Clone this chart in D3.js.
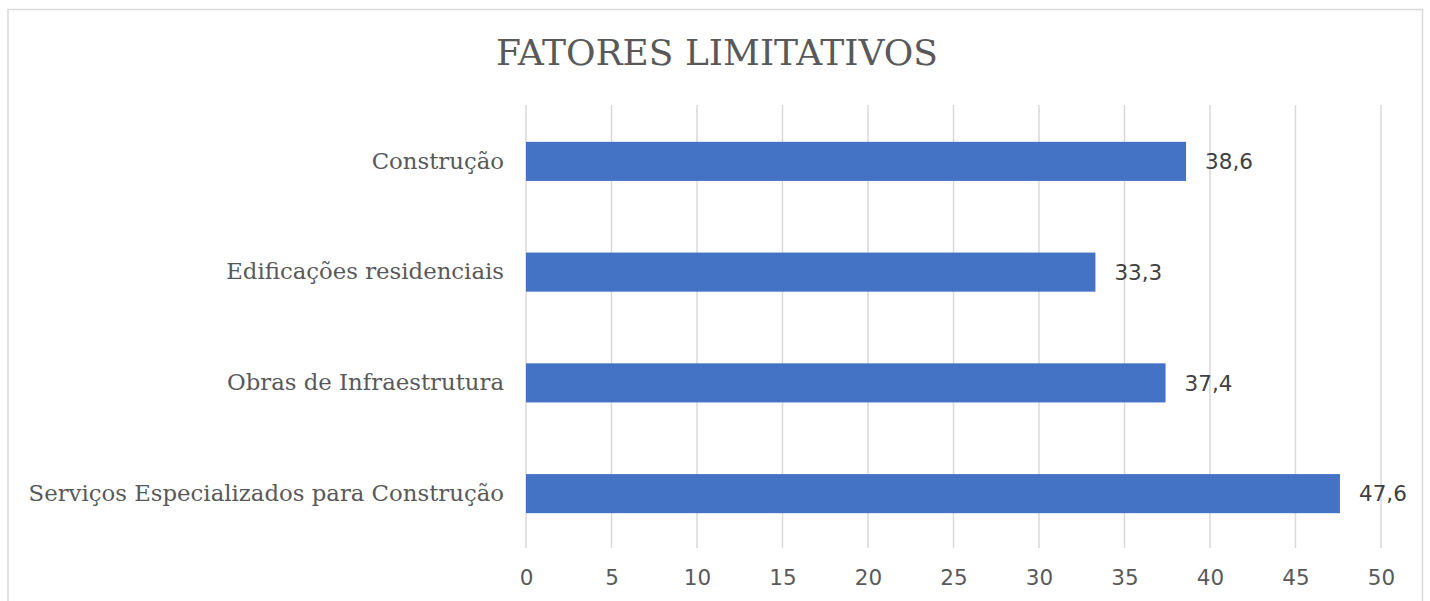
<!DOCTYPE html>
<html><head><meta charset="utf-8">
<script src="https://cdn.jsdelivr.net/npm/d3@7"></script>
<style>body{margin:0;background:#fff}</style>
</head><body>
<svg id="c" width="1430" height="601"></svg>
<script>
const title = "FATORES LIMITATIVOS";
const categories = ["Construção","Edificações residenciais","Obras de Infraestrutura","Serviços Especializados para Construção"];
const values = [38.6, 33.3, 37.4, 47.6];
const xTicks = [0,5,10,15,20,25,30,35,40,45,50];

const svg = d3.select("#c");
const m = {left:526, right:1381, top:106, bottom:549};
const serif = "'DejaVu Serif', serif";
const sans = "'DejaVu Sans', sans-serif";
const txt = "#595959";

svg.append("rect").attr("x",8).attr("y",9.5).attr("width",1414.5).attr("height",620)
  .attr("fill","#fff").attr("stroke","#d9d9d9").attr("stroke-width",1.5);

const x = d3.scaleLinear().domain([0,50]).range([m.left,m.right]);
const y = d3.scaleBand().domain(categories).range([m.top,m.bottom]).paddingInner(0.647).paddingOuter(0.3235);

svg.append("g").selectAll("line").data(xTicks).join("line")
  .attr("x1",d=>x(d)).attr("x2",d=>x(d)).attr("y1",m.top-1).attr("y2",m.bottom-1)
  .attr("stroke","#d9d9d9").attr("stroke-width",1.5);

svg.append("g").selectAll("rect").data(values).join("rect")
  .attr("x",x(0)).attr("y",(d,i)=>y(categories[i]))
  .attr("width",d=>x(d)-x(0)).attr("height",y.bandwidth())
  .attr("fill","#4472c4");

svg.append("g").selectAll("text").data(values).join("text")
  .attr("x",d=>x(d)+19).attr("y",(d,i)=>y(categories[i])+y.bandwidth()/2)
  .attr("dy","0.36em").attr("font-family",sans).attr("font-size",21.5).attr("fill","#404040")
  .text(d=>d.toFixed(1).replace(".",","));

const xa = svg.append("g").attr("transform",`translate(0,${m.bottom})`)
  .call(d3.axisBottom(x).tickValues(xTicks).tickSize(0).tickPadding(21));
xa.select(".domain").remove();
xa.selectAll("text").attr("font-family",sans).attr("font-size",21.5).attr("fill",txt).attr("dy","0.71em");

const ya = svg.append("g").attr("transform",`translate(${m.left},0)`)
  .call(d3.axisLeft(y).tickSize(0).tickPadding(22));
ya.select(".domain").remove();
ya.selectAll("text").attr("font-family",serif).attr("font-size",22.8).attr("fill",txt);

svg.append("text").attr("x",717).attr("y",65).attr("text-anchor","middle")
  .attr("font-family",serif).attr("font-size",36).attr("fill",txt).text(title);
</script>
</body></html>
